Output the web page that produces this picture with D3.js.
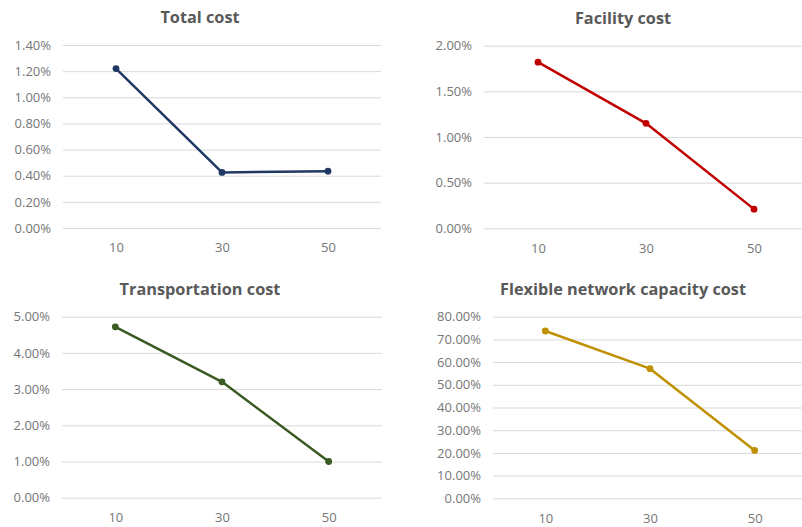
<!DOCTYPE html>
<html>
<head>
<meta charset="utf-8">
<script src="https://cdn.jsdelivr.net/npm/d3@7"></script>
<style>
  html, body { margin: 0; padding: 0; background: #fff; }
  svg { display: block; }
  text { font-family: "Open Sans", Lato, sans-serif; }
</style>
</head>
<body>
<svg id="chart" width="802" height="527"></svg>
<script>
// ---- data ----
const categories = ["10", "30", "50"];
const totalCost = [0.0122, 0.00425, 0.00435];
const facilityCost = [0.0182, 0.0115, 0.0021];
const transportationCost = [0.0472, 0.032, 0.0100];
const flexibleCapacityCost = [0.737, 0.571, 0.211];

const totalTicks = [0, 0.002, 0.004, 0.006, 0.008, 0.010, 0.012, 0.014];
const facilityTicks = [0, 0.005, 0.010, 0.015, 0.020];
const transportationTicks = [0, 0.01, 0.02, 0.03, 0.04, 0.05];
const flexibleTicks = [0, 0.1, 0.2, 0.3, 0.4, 0.5, 0.6, 0.7, 0.8];

const titles = ["Total cost", "Facility cost", "Transportation cost", "Flexible network capacity cost"];
const colors = ["#203864", "#C00000", "#3A5A24", "#BF9000"];

// ---- layout ----
const panels = [
  { title: titles[0], values: totalCost, ticks: totalTicks, color: colors[0],
    x: [63, 381], y: [228, 45], titleX: 200, titleY: 17 },
  { title: titles[1], values: facilityCost, ticks: facilityTicks, color: colors[1],
    x: [484, 808], y: [228.3, 45.7], titleX: 623, titleY: 18 },
  { title: titles[2], values: transportationCost, ticks: transportationTicks, color: colors[2],
    x: [62, 382], y: [497.7, 316.7], titleX: 200, titleY: 289 },
  { title: titles[3], values: flexibleCapacityCost, ticks: flexibleTicks, color: colors[3],
    x: [493, 807], y: [498.3, 316.7], titleX: 623, titleY: 289 }
];

const svg = d3.select("#chart");
const fmt = d3.format(".2%");
const FONT = "'Open Sans', Lato, sans-serif";

panels.forEach(p => {
  const g = svg.append("g");
  const x = d3.scalePoint().domain(categories).range(p.x).padding(0.5);
  const y = d3.scaleLinear()
    .domain([0, d3.max(p.ticks)])
    .range(p.y);

  // gridlines + y labels
  const yAxis = d3.axisLeft(y)
    .tickValues(p.ticks)
    .tickFormat(fmt)
    .tickSize(-(p.x[1] - p.x[0]))
    .tickPadding(12);
  const ya = g.append("g")
    .attr("transform", `translate(${p.x[0]},0)`)
    .call(yAxis);
  ya.select(".domain").remove();
  ya.selectAll(".tick line").attr("stroke", "#d9d9d9").attr("stroke-width", 1);
  ya.selectAll(".tick text")
    .attr("fill", "#767676")
    .style("font-size", "13px")
    .style("font-family", FONT);

  // x labels
  const xAxis = d3.axisBottom(x).tickSize(0).tickPadding(15);
  const xa = g.append("g")
    .attr("transform", `translate(0,${p.y[0]})`)
    .call(xAxis);
  xa.select(".domain").remove();
  xa.selectAll(".tick text")
    .attr("fill", "#767676")
    .style("font-size", "13px")
    .style("font-family", FONT);

  // line
  const line = d3.line()
    .x((d, i) => x(categories[i]))
    .y(d => y(d));
  g.append("path")
    .datum(p.values)
    .attr("fill", "none")
    .attr("stroke", p.color)
    .attr("stroke-width", 2.5)
    .attr("stroke-linejoin", "round")
    .attr("d", line);

  g.selectAll("circle.pt")
    .data(p.values)
    .join("circle")
    .attr("class", "pt")
    .attr("cx", (d, i) => x(categories[i]))
    .attr("cy", d => y(d))
    .attr("r", 3.4)
    .attr("fill", p.color);

  // title
  g.append("text")
    .attr("x", p.titleX)
    .attr("y", p.titleY)
    .attr("text-anchor", "middle")
    .attr("dominant-baseline", "central")
    .attr("fill", "#595959")
    .style("font-size", "16.3px")
    .style("font-weight", "bold")
    .style("font-family", FONT)
    .text(p.title);
});
</script>
</body>
</html>
